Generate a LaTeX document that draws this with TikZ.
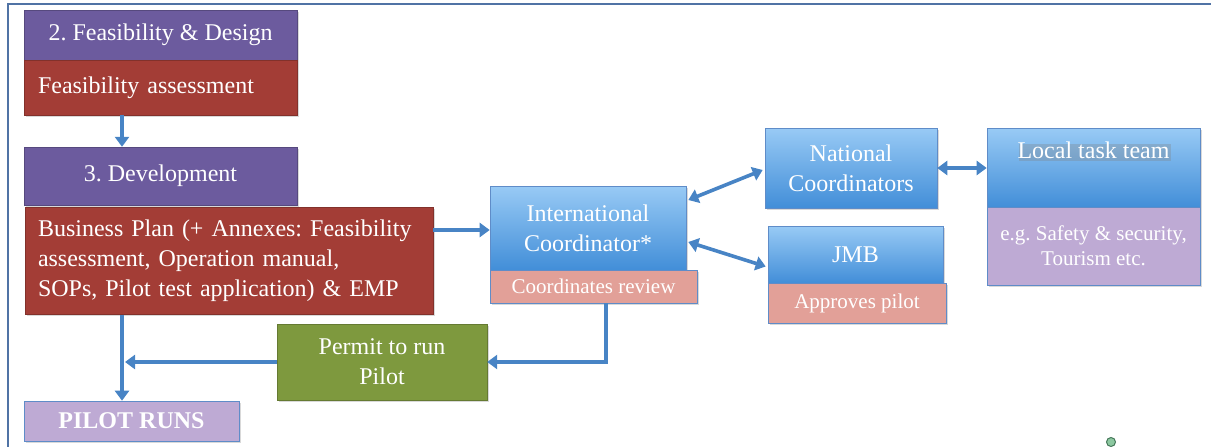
\documentclass[tikz,border=0pt]{standalone}
\usepackage{fontspec}
\setmainfont{Liberation Serif}
\usetikzlibrary{arrows.meta,shadows,calc}
\frenchspacing
\definecolor{purp}{RGB}{108,91,158}
\definecolor{dred}{RGB}{163,61,54}
\definecolor{bluetop}{RGB}{152,202,245}
\definecolor{bluebot}{RGB}{66,142,216}
\definecolor{blueedge}{RGB}{95,140,200}
\definecolor{pinkb}{RGB}{226,160,152}
\definecolor{lilac}{RGB}{190,170,212}
\definecolor{grn}{RGB}{126,153,62}
\definecolor{arrc}{RGB}{72,132,197}
\definecolor{framec}{RGB}{80,115,165}
\definecolor{dotfill}{RGB}{140,200,160}
\definecolor{dotedge}{RGB}{70,120,90}
\begin{document}
\begin{tikzpicture}[x=1pt,y=-1pt,
  box/.style={rectangle, inner sep=0pt, text=white, align=center,
    font=\fontsize{24}{30}\selectfont,
    drop shadow={shadow xshift=1.5pt,shadow yshift=-1.5pt,opacity=0.3}},
  small/.style={font=\fontsize{21}{25}\selectfont},
  purpbox/.style={box, fill=purp, draw=purp!80!black, line width=0.4pt},
  redbox/.style={box, fill=dred, draw=dred!80!black, line width=0.4pt},
  bluebox/.style={box, top color=bluetop, bottom color=bluebot, draw=blueedge, line width=0.6pt},
  pinkbox/.style={box, small, fill=pinkb, draw=blueedge, line width=0.6pt},
  lilacbox/.style={box, fill=lilac, draw=blueedge, line width=0.6pt},
  greenbox/.style={box, fill=grn, draw=grn!80!black, line width=0.4pt},
  arr/.style={draw=arrc, line width=3.6pt, -{Triangle[width=14pt,length=10pt]}},
  darr/.style={draw=arrc, line width=3.6pt, {Triangle[width=14pt,length=10pt]}-{Triangle[width=14pt,length=10pt]}}
]
\useasboundingbox (0,0) rectangle (1211,447);
% frame
\draw[framec, line width=2pt] (8,447) -- (8,4) -- (1211,4);

% left column
\node[purpbox, minimum width=273pt, minimum height=50pt] (A) at (160.5,35) {2. Feasibility \& Design};
\node[redbox, minimum width=273pt, minimum height=55pt, text width=245pt, align=left, inner xsep=14pt] (B) at (160.5,87.5) {Feasibility assessment};
\node[purpbox, minimum width=273pt, minimum height=58pt] (C) at (160.5,176) {3. Development};
\node[redbox, minimum height=107pt, text width=382pt, align=left, inner xsep=13pt] (D) at (229,261)
  {Business Plan (+ Annexes: Feasibility\\assessment, Operation manual,\\SOPs, Pilot test application) \& EMP};

% international coordinator
\node[bluebox, minimum width=196pt, minimum height=84pt] (IC) at (588,228) {International\\Coordinator*};
\node[pinkbox, minimum width=207pt, minimum height=33pt] (ICr) at (593.5,286.5) {Coordinates review};

% national coordinators
\node[bluebox, minimum width=172pt, minimum height=80pt] (NC) at (851,168) {National\\Coordinators};

% JMB
\node[bluebox, minimum width=175pt, minimum height=57pt] (JMB) at (855.5,254.5) {JMB};
\node[pinkbox, minimum width=178pt, minimum height=40pt] (JMBr) at (857,303) {Approves pilot};

% local task team
\node[bluebox, minimum width=213pt, minimum height=79pt, anchor=north] (LTT) at (1093.5,128) {};
\node[box, anchor=north, drop shadow={opacity=0}] (LTTt) at (LTT.north) [yshift=-14pt] {Local task team};
\node[lilacbox, small, minimum width=213pt, minimum height=78pt] (LTTs) at (1093.5,246) {e.g. Safety \& security,\\Tourism etc.};

% permit
\node[greenbox, minimum width=210pt, minimum height=76pt] (PR) at (382,362) {Permit to run\\Pilot};

% pilot runs
\node[lilacbox, minimum width=215pt, minimum height=40pt, font=\fontsize{24}{28}\selectfont\bfseries] (PILOT) at (131.5,421) {PILOT RUNS};

% helper coordinates
\coordinate (xl) at (122,0);
\coordinate (xr) at (606,0);
\coordinate (yb) at (0,230);

% connectors
\draw[arr] (B.south -| xl) -- (C.north -| xl);
\draw[arr] (D.east |- yb) -- (IC.west |- yb);
\draw[darr] ($(IC.east)+(2,-28)$) -- ($(NC.west)+(-2,2)$);
\draw[darr] ($(IC.east)+(2,14)$) -- ($(JMB.west)+(-2,12)$);
\draw[darr] (NC.east) -- (LTT.west |- NC.east);
\draw[arr] (ICr.south -| xr) |- (PR.east);
\draw[arr] (PR.west) -- ($(PR.west -| xl)+(3,0)$);
\draw[arr] (D.south -| xl) -- (PILOT.north -| xl);

% small green dot
\draw[dotedge, fill=dotfill, line width=1pt] (1111,442) circle (4.5);
\end{tikzpicture}
\end{document}
